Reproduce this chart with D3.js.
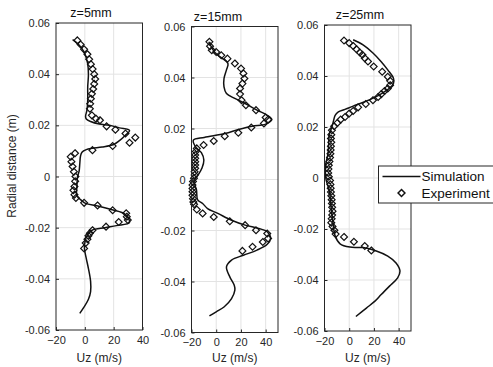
<!DOCTYPE html>
<html>
<head>
<meta charset="utf-8">
<script src="https://cdn.jsdelivr.net/npm/d3@7"></script>
<style>
  body { margin: 0; background: #fff; }
  svg { display: block; font-family: "Liberation Sans", Arial, sans-serif; }
</style>
</head>
<body>
<svg id="chart" width="493" height="367"></svg>
<script>
// Panel titles and tick values
const titles = ["z=5mm", "z=15mm", "z=25mm"];
const xDomains = [[-20, 40], [-20, 50], [-20, 50]];
const xTicks = [-20, 0, 20, 40];
const yTicks = [-0.06, -0.04, -0.02, 0, 0.02, 0.04, 0.06];
const legendLabels = ["Simulation", "Experiment"];

// [Uz (m/s), radial distance (m)]
const sim5 = [[-8.5,0.0535],[-5,0.052],[-2,0.050],[0,0.048],[2,0.044],[2.5,0.040],[2,0.035],[2,0.030],[1.5,0.026],[0.5,0.0235],[1,0.0225],[4,0.0215],[10,0.0205],[17,0.020],[24,0.019],[31,0.018],[28,0.016],[24,0.014],[20,0.0125],[12,0.0115],[5,0.011],[1,0.0105],[-2,0.0095],[-3,0.008],[-3.5,0.005],[-4,0.002],[-5,0],[-5.5,-0.004],[-5.5,-0.0075],[-2,-0.0095],[0.5,-0.0105],[9,-0.0115],[19,-0.013],[28,-0.0148],[31,-0.018],[22,-0.0192],[14,-0.020],[5,-0.021],[1.8,-0.0228],[0.3,-0.025],[-0.3,-0.028],[1,-0.032],[2.5,-0.036],[4,-0.041],[4,-0.045],[2.5,-0.048],[-0.5,-0.051],[-3.5,-0.0535]];
const exp5 = [[-5.2,0.0532],[-2.9,0.0516],[-0.5,0.0497],[1.8,0.0478],[3,0.0458],[4.2,0.0439],[5.4,0.042],[6.5,0.040],[7.2,0.0381],[6.5,0.0362],[5.8,0.0342],[4.9,0.0323],[4.2,0.0304],[3.7,0.0284],[3.5,0.0265],[4.9,0.0239],[7.7,0.0226],[10.5,0.022],[15.1,0.0196],[21.2,0.0183],[28.2,0.0168],[35,0.0152],[31,0.0132],[19.3,0.0119],[5.3,0.0103],[-6.8,0.0091],[-9.8,0.0077],[-9.3,0.0058],[-8.5,0.0039],[-7.6,0.0019],[-6.5,0],[-6.7,-0.0019],[-7.2,-0.0039],[-7.9,-0.0054],[-7.2,-0.0071],[-6.2,-0.0084],[-0.5,-0.0103],[8.8,-0.0113],[19.3,-0.0132],[28.7,-0.0144],[29.1,-0.0157],[29.8,-0.017],[23.5,-0.0178],[14.7,-0.0196],[5.3,-0.021],[3.5,-0.0222],[2.5,-0.0232],[1.8,-0.0245],[0.6,-0.026],[-0.5,-0.0281]];

const sim15 = [[-6,0.054],[-1.4,0.050],[4,0.0478],[9.5,0.0455],[8.3,0.043],[6.3,0.0396],[6.3,0.0363],[8.3,0.0337],[15,0.0318],[23.4,0.0298],[33,0.0272],[41.3,0.0252],[45,0.0235],[40,0.0217],[29,0.0209],[18,0.0196],[7,0.018],[-9.7,0.0165],[-18.5,0.0154],[-17,0.013],[-12,0.0105],[-10,0.0076],[-11.5,0.0045],[-15,0.0015],[-18,-0.0005],[-16,-0.004],[-15,-0.008],[-11,-0.0094],[-7,-0.0114],[1.3,-0.0133],[12.4,-0.016],[23.4,-0.0179],[34.4,-0.0192],[41.3,-0.0205],[44,-0.0231],[41.3,-0.0254],[33,-0.0277],[22,-0.0297],[12.4,-0.0316],[8.3,-0.0343],[11,-0.0382],[14.6,-0.0415],[15.1,-0.0434],[12.4,-0.0467],[6.3,-0.050],[0,-0.0519],[-5.5,-0.0535]];
const exp15 = [[-5.5,0.054],[-5,0.0523],[-3.6,0.0507],[0,0.050],[4.1,0.0487],[9.1,0.0474],[15.1,0.0455],[20.1,0.0435],[22,0.0416],[22.8,0.0396],[21.2,0.0376],[19.3,0.0357],[19.3,0.0335],[20.5,0.0311],[24,0.0291],[32.2,0.0272],[40,0.0243],[42,0.0235],[38.6,0.022],[28.4,0.0204],[17.9,0.0183],[6.9,0.017],[-2,0.0151],[-10.2,0.0135],[-15.7,0.0122],[-16.5,0.011],[-17,0.0096],[-17,0.0083],[-17,0.007],[-17,0.0057],[-17,0.0044],[-17.5,0.003],[-17.5,0.0018],[-18,0.0005],[-18.8,-0.0008],[-19.2,-0.0022],[-19.2,-0.0035],[-19.2,-0.0048],[-19.2,-0.0062],[-18.8,-0.0075],[-18.5,-0.0088],[-17.9,-0.0097],[-15.7,-0.0118],[-11,-0.0133],[-2,-0.0147],[11,-0.0164],[23.4,-0.0179],[32.2,-0.0199],[41.3,-0.0212],[42,-0.0231],[37.7,-0.0245],[29.4,-0.0264],[21.2,-0.028]];

const sim25 = [[3.2,0.0542],[11.2,0.0522],[19.2,0.049],[25.9,0.0456],[31.2,0.0424],[35.8,0.0391],[35.8,0.0371],[32.3,0.0351],[27.2,0.0334],[20.6,0.0316],[12.6,0.0299],[3.2,0.0282],[-3.4,0.0269],[-8.8,0.0259],[-11.4,0.0246],[-12.6,0.0226],[-14,0.020],[-16,0.0174],[-16.5,0.015],[-17,0.010],[-19.4,0.0042],[-19,0],[-18,-0.002],[-16,-0.005],[-15,-0.0102],[-13.3,-0.0168],[-11.4,-0.0227],[-7.4,-0.0258],[0.6,-0.0271],[11.2,-0.0273],[21.9,-0.0286],[31.2,-0.0306],[37.9,-0.0333],[41.1,-0.0365],[39.2,-0.0392],[32.6,-0.0424],[25.9,-0.0457],[20.6,-0.0484],[13.9,-0.051],[5.4,-0.0543]];
const exp25 = [[-4.2,0.0539],[0,0.0529],[3.2,0.0518],[5.9,0.0505],[8.6,0.0492],[10.7,0.0483],[12.6,0.047],[15.2,0.0457],[19.8,0.0437],[26.7,0.0417],[31.2,0.0397],[33.1,0.0381],[33.1,0.0364],[31.2,0.0351],[28.6,0.0341],[26,0.0329],[23.4,0.0318],[19.2,0.0305],[13.4,0.029],[7.2,0.0277],[3.2,0.0263],[0,0.0253],[-3.4,0.0239],[-6.9,0.0229],[-9.6,0.0216],[-12.2,0.0203],[-14,0.0187],[-14.5,0.017],[-14.8,0.0155],[-14.5,0.014],[-14.8,0.0125],[-15,0.011],[-15.2,0.0095],[-15.5,0.008],[-16,0.0065],[-16.5,0.005],[-16.8,0.0035],[-17,0.002],[-16.5,0.0005],[-15.5,-0.001],[-15.2,-0.0025],[-15,-0.004],[-14.8,-0.0055],[-14.5,-0.007],[-14.2,-0.0085],[-14,-0.01],[-13.8,-0.0115],[-13.5,-0.013],[-13.8,-0.0145],[-14.2,-0.016],[-14.5,-0.0175],[-13.5,-0.019],[-12,-0.0205],[-11,-0.022],[-4.2,-0.0231],[3.8,-0.025],[12.6,-0.0267],[17.9,-0.0284]];

const simSeries = [sim5, sim15, sim25];
const expSeries = [exp5, exp15, exp25];

// Layout of the three axes boxes (pixels)
const panelLeft = [56, 191.5, 324.5];
const panelTop = [23, 26.5, 25];
const panelBottom = [330, 332.5, 331];
const panelWidth = 86.5;
const titleX = [91, 218, 360];

const ink = "#262626";
const svg = d3.select("#chart");

const diamond = d3.symbol().type(d3.symbolDiamond2).size(30);

titles.forEach((title, i) => {
  const w = panelWidth;
  const h = panelBottom[i] - panelTop[i];
  const g = svg.append("g")
    .attr("transform", `translate(${panelLeft[i]},${panelTop[i]})`);

  const x = d3.scaleLinear().domain(xDomains[i]).range([0, w]);
  const y = d3.scaleLinear().domain([-0.06, 0.06]).range([h, 0]);

  g.append("rect").attr("width", w).attr("height", h).attr("fill", "#fff");

  // grid lines
  g.append("g")
    .selectAll("line.gx")
    .data(xTicks.filter((t) => t > xDomains[i][0] && t < xDomains[i][1]))
    .enter()
    .append("line")
    .attr("x1", (d) => x(d)).attr("x2", (d) => x(d))
    .attr("y1", 0).attr("y2", h)
    .attr("stroke", "#e3e3e3").attr("stroke-width", 1);

  g.append("g")
    .selectAll("line.gy")
    .data(yTicks.slice(1, -1))
    .enter()
    .append("line")
    .attr("x1", 0).attr("x2", w)
    .attr("y1", (d) => y(d)).attr("y2", (d) => y(d))
    .attr("stroke", "#e3e3e3").attr("stroke-width", 1);

  // simulation curve
  const line = d3.line()
    .x((d) => x(d[0]))
    .y((d) => y(d[1]))
    .curve(d3.curveCatmullRom.alpha(0.5));

  g.append("path")
    .datum(simSeries[i])
    .attr("fill", "none")
    .attr("stroke", "#111")
    .attr("stroke-width", 1.5)
    .attr("d", line);

  // experiment markers
  g.selectAll(".exp")
    .data(expSeries[i])
    .enter()
    .append("path")
    .attr("class", "exp")
    .attr("transform", (d) => `translate(${x(d[0])},${y(d[1])})`)
    .attr("d", diamond)
    .attr("fill", "none")
    .attr("stroke", "#111")
    .attr("stroke-width", 1.2);

  // axes
  const xAxis = g.append("g")
    .attr("transform", `translate(0,${h})`)
    .call(d3.axisBottom(x).tickValues(xTicks).tickSize(-3).tickPadding(6));

  const yAxis = g.append("g")
    .call(
      d3.axisLeft(y)
        .tickValues(yTicks)
        .tickSize(-3)
        .tickPadding(6)
        .tickFormat((d) => (d === 0 ? "0" : d.toFixed(2)))
    );

  [xAxis, yAxis].forEach((a) => {
    a.select(".domain").remove();
    a.selectAll("line").attr("stroke", ink);
    a.selectAll("text")
      .style("font-size", "11px")
      .style("font-family", "'Liberation Sans', Arial, sans-serif")
      .attr("fill", ink);
  });

  // box
  g.append("rect")
    .attr("width", w).attr("height", h)
    .attr("fill", "none")
    .attr("stroke", ink)
    .attr("stroke-width", 1);

  // title
  svg.append("text")
    .attr("x", titleX[i])
    .attr("y", panelTop[i] - 6)
    .attr("text-anchor", "middle")
    .style("font-size", "12.5px")
    .attr("fill", "#111")
    .text(title);

  // x label
  svg.append("text")
    .attr("x", panelLeft[i] + w / 2)
    .attr("y", 362)
    .attr("text-anchor", "middle")
    .style("font-size", "12px")
    .attr("fill", ink)
    .text("Uz (m/s)");
});

// y label
svg.append("text")
  .attr("transform", "translate(16,166) rotate(-90)")
  .attr("text-anchor", "middle")
  .style("font-size", "12px")
  .attr("fill", ink)
  .text("Radial distance (m)");

// legend
const legend = svg.append("g").attr("transform", "translate(378.5,166)");

legend.append("rect")
  .attr("width", 125).attr("height", 37)
  .attr("fill", "#fff")
  .attr("stroke", ink)
  .attr("stroke-width", 1);

legend.append("line")
  .attr("x1", 4).attr("x2", 42)
  .attr("y1", 10.5).attr("y2", 10.5)
  .attr("stroke", "#111")
  .attr("stroke-width", 1.5);

legend.append("path")
  .attr("transform", "translate(23,27)")
  .attr("d", diamond)
  .attr("fill", "none")
  .attr("stroke", "#111")
  .attr("stroke-width", 1.5);

legend.selectAll(".lab")
  .data(legendLabels)
  .enter()
  .append("text")
  .attr("x", 43)
  .attr("y", (d, i) => 15 + i * 17)
  .style("font-size", "13.5px")
  .attr("fill", "#111")
  .text((d) => d);
</script>
</body>
</html>
